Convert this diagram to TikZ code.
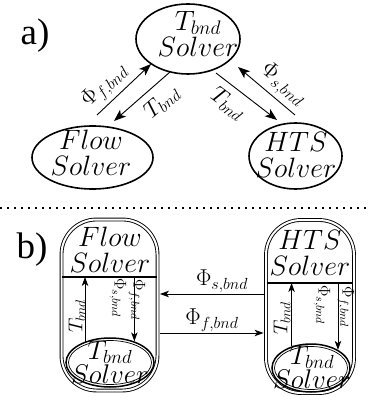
\RequirePackage{fix-cm}
\documentclass[tikz,border=0pt]{standalone}
\usepackage[no-math]{fontspec}
\newfontfamily\labfont{Liberation Serif}
\usetikzlibrary{shapes.geometric,arrows.meta,calc}
\tikzset{
  ell/.style={ellipse, draw, line width=1.6pt, inner sep=0pt},
  oell/.style={ellipse, draw, line width=1.5pt, inner sep=0pt},
  iell/.style={ellipse, draw, line width=0.7pt, inner sep=0pt},
  txt/.style={align=center, inner sep=0pt, font=\fontsize{28}{26}\selectfont},
  itxt/.style={align=center, inner sep=0pt, font=\fontsize{27}{22}\selectfont},
  lab/.style={inner sep=0pt, font=\fontsize{23}{23}\selectfont},
  slab/.style={inner sep=0pt, font=\fontsize{17}{17}\selectfont},
  tlab/.style={inner sep=0pt, font=\fontsize{20}{20}\selectfont},
  tag/.style={inner sep=0pt, font=\labfont\fontsize{37}{37}\selectfont},
  arr/.style={-{Stealth[length=12pt,width=9pt,inset=3pt]}, line width=0.9pt},
  sarr/.style={-{Stealth[length=9pt,width=6.5pt,inset=2.5pt]}, line width=0.8pt},
  box/.style={draw, double, line width=0.9pt, double distance=2pt, rounded corners=35pt, inner sep=0pt},
  sepline/.style={line width=1.3pt, shorten <=1pt, shorten >=1pt},
}
\begin{document}
\begin{tikzpicture}[x=1pt,y=-1pt]
\useasboundingbox (0,0) rectangle (369,412);

% ---------- a) ----------
\node[tag] (ta) at (35,36) {a)};
\node[ell, minimum width=104pt, minimum height=70pt] (tsol) at (188,39) {};
\node[txt] (tsolt) at (198,34) {$T_{bnd}$\\$Solver$};
\node[ell, minimum width=121pt, minimum height=63pt] (flow) at (92.5,157.5) {};
\node[txt] (flowt) at (91,153) {$Flow$\\$Solver$};
\node[ell, minimum width=93pt, minimum height=66pt] (hts) at (295.5,156) {};
\node[txt] (htst) at (296,155) {$HTS$\\$Solver$};

\coordinate (fa1) at (97,115);  \coordinate (fa2) at (151,64);
\coordinate (tb1) at (170,72);  \coordinate (tb2) at (114,121);
\coordinate (tr1) at (216,73);  \coordinate (tr2) at (277,120);
\coordinate (sa1) at (295,115); \coordinate (sa2) at (238,67);
\draw[arr] (fa1) -- (fa2);
\draw[arr] (tb1) -- (tb2);
\draw[arr] (tr1) -- (tr2);
\draw[arr] (sa1) -- (sa2);
\node[lab, rotate=43] (lfa) at (105,86) {$\Phi_{f,bnd}$};
\node[lab, rotate=41] (ltb) at (162,102) {$T_{bnd}$};
\node[lab, rotate=-37] (ltr) at (228,104) {$T_{bnd}$};
\node[lab, rotate=-40] (lsa) at (283,85) {$\Phi_{s,bnd}$};

% separator
\draw[line width=1.8pt, dash pattern=on 1.8pt off 5.2pt] (0,208) -- (369,208);

% ---------- b) ----------
\node[tag] (tb) at (32,250) {b)};
\node[box, minimum width=96pt, minimum height=171pt] (fbox) at (109.5,305) {};
\node[box, minimum width=88pt, minimum height=173pt] (hbox) at (310,306.5) {};
\coordinate (fsep) at (0,277);
\coordinate (hsep) at (0,283);
\draw[sepline] (fbox.west |- fsep) -- (fbox.east |- fsep);
\draw[sepline] (hbox.west |- hsep) -- (hbox.east |- hsep);
\node[txt] (ftxt) at (110,250) {$Flow$\\$Solver$};
\node[txt] (htxt) at (310,253) {$HTS$\\$Solver$};

\node[oell, minimum width=88pt, minimum height=49pt] (fin) at (110,362.5) {};
\node[iell, minimum width=83pt, minimum height=44pt] (fin2) at (fin) {};
\node[itxt] (fint) at (110,362) {$T_{bnd}$\\$Solver$};
\node[oell, minimum width=78pt, minimum height=48pt] (hin) at (311,368) {};
\node[iell, minimum width=73pt, minimum height=43pt] (hin2) at (hin) {};
\node[itxt] (hint) at (312,367) {$T_{bnd}$\\$Solver$};

\draw[sarr] (fin.140) -- (fin.140 |- fsep);
\draw[sarr] (fin.41 |- fsep) -- (fin.41);
\draw[sarr] (hin.132) -- (hin.132 |- hsep);
\draw[sarr] (hin.34 |- hsep) -- (hin.34);

\coordinate (ys) at (0,294);
\coordinate (yf) at (0,333);
\draw[sarr, shorten <=2pt, shorten >=2pt] (hbox.west |- ys) -- (fbox.east |- ys);
\draw[sarr, shorten <=2pt, shorten >=2pt] (fbox.east |- yf) -- (hbox.west |- yf);
\node[lab] (lsb) at (222,281) {$\Phi_{s,bnd}$};
\node[lab] (lfb) at (212,320) {$\Phi_{f,bnd}$};

\node[tlab, rotate=90] (lt1) at (77,316) {$T_{bnd}$};
\node[slab, rotate=-90] (ls1) at (118,298) {$\Phi_{s,bnd}$};
\node[slab, rotate=-90] (lf1) at (137,300) {$\Phi_{f,bnd}$};
\node[tlab, rotate=90] (lt2) at (282,318) {$T_{bnd}$};
\node[slab, rotate=-90] (ls2) at (322,305) {$\Phi_{s,bnd}$};
\node[slab, rotate=-90] (lf2) at (346,307) {$\Phi_{f,bnd}$};
\end{tikzpicture}
\end{document}
